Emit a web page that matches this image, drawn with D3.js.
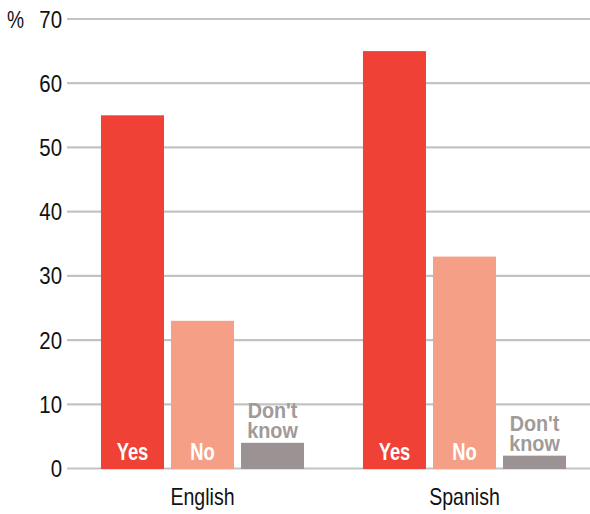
<!DOCTYPE html>
<html><head><meta charset="utf-8">
<script src="https://cdn.jsdelivr.net/npm/d3@7"></script>
<style>
body{margin:0;background:#fff;}
text{font-family:"Liberation Sans",Arial,sans-serif;}
</style></head>
<body>
<svg id="chart" width="590" height="514"></svg>
<script>
const groups = ["English", "Spanish"];
const answers = ["Yes", "No", "Don't know"];
const yesValues = [55, 65];
const noValues = [23, 33];
const dkValues = [4, 2];
const yTicks = [0, 10, 20, 30, 40, 50, 60, 70];
const colors = ["#ef4136", "#f69f87", "#9b9393"];

const svg = d3.select("#chart");
const y = d3.scaleLinear().domain([0, 70]).range([468.5, 19]);
const x0 = d3.scaleBand().domain(groups).range([71.5, 595.5]).paddingInner(0.225).paddingOuter(0.1125);
const x1 = d3.scaleBand().domain(answers).range([0, x0.bandwidth()]).paddingInner(0.1).paddingOuter(0);

// gridlines
svg.append("g").selectAll("line").data(yTicks).join("line")
  .attr("x1", 67).attr("x2", 590)
  .attr("y1", d => y(d)).attr("y2", d => y(d))
  .attr("stroke", "#c3c3c3").attr("stroke-width", 2.2);

// condensed text helper
function ctext(sel, xf, yf, sx) {
  return sel.attr("x", 0).attr("y", 0)
    .attr("transform", (d, i) => `translate(${xf(d, i)},${yf(d, i)}) scale(${sx},1)`);
}

// tick labels
ctext(svg.append("g").selectAll("text").data(yTicks).join("text"), () => 62, d => y(d) + 8.6, 0.85)
  .attr("text-anchor", "end").attr("font-size", 24).attr("fill", "#111")
  .text(d => d);
ctext(svg.append("g").selectAll("text").data(["%"]).join("text"), () => 7, () => y(70) + 8.6, 0.8)
  .attr("font-size", 24).attr("fill", "#111").text(d => d);

const rows = groups.map((g, i) => ({group: g, vals: [yesValues[i], noValues[i], dkValues[i]]}));
const gSel = svg.append("g").selectAll("g").data(rows).join("g")
  .attr("transform", d => `translate(${x0(d.group)},0)`);

gSel.selectAll("rect").data(d => d.vals.map((v, j) => ({a: answers[j], v, j}))).join("rect")
  .attr("x", d => x1(d.a)).attr("width", x1.bandwidth())
  .attr("y", d => y(d.v)).attr("height", d => y(0) - y(d.v) + 0.5)
  .attr("fill", d => colors[d.j]);

// labels inside Yes/No
ctext(gSel.selectAll("text.in").data(d => [answers[0], answers[1]]).join("text").attr("class", "in"),
      d => x1(d) + x1.bandwidth() / 2, () => 460, 0.8)
  .attr("text-anchor", "middle").attr("font-size", 23).attr("font-weight", "bold")
  .attr("fill", "#fff").text(d => d);

// Don't know label above bar
gSel.each(function(d) {
  const cx = x1(answers[2]) + x1.bandwidth() / 2;
  const base = y(d.vals[2]) - 5;
  const lines = answers[2].split(" ");
  ctext(d3.select(this).selectAll("text.dk").data(lines).join("text").attr("class", "dk"),
        () => cx, (l, i) => base - (lines.length - 1 - i) * 20, 0.9)
    .attr("text-anchor", "middle").attr("font-size", 22).attr("font-weight", "bold")
    .attr("fill", "#a09a99").text(l => l);
});

// category labels
ctext(svg.append("g").selectAll("text.cat").data(groups).join("text").attr("class", "cat"),
      d => x0(d) + x0.bandwidth() / 2, () => 505, 0.85)
  .attr("text-anchor", "middle").attr("font-size", 23).attr("fill", "#111")
  .text(d => d);
</script>
</body></html>
